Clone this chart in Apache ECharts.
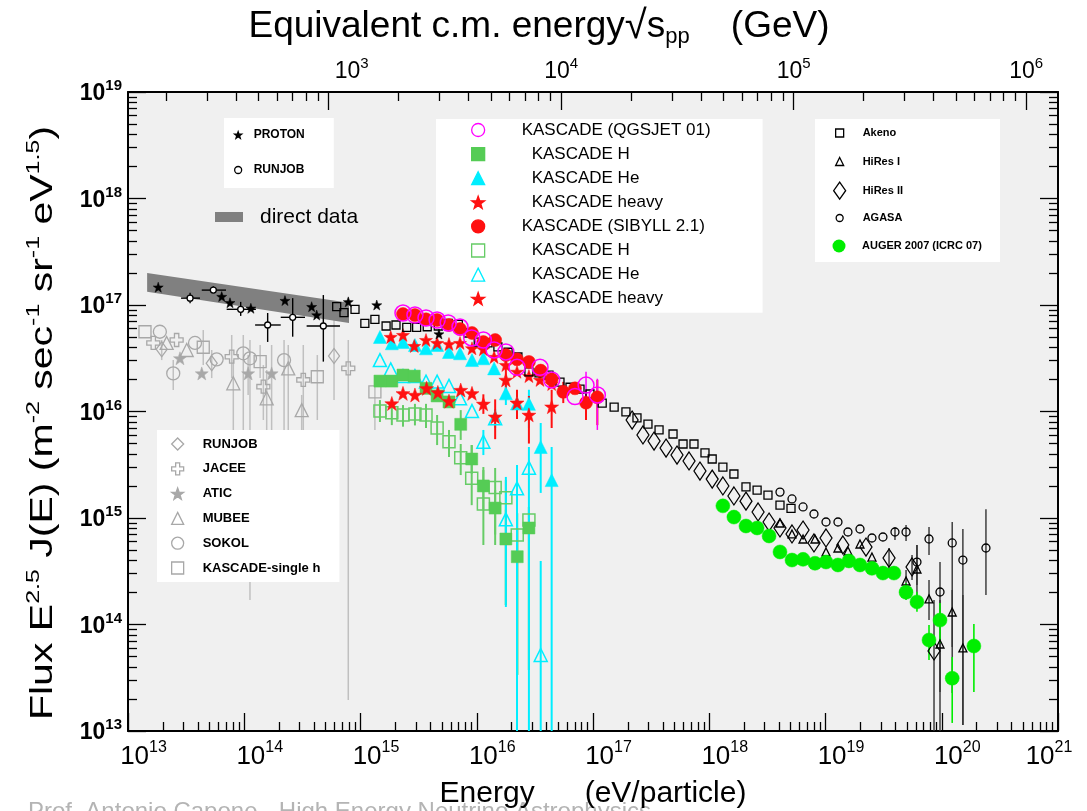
<!DOCTYPE html>
<html>
<head>
<meta charset="utf-8">
<script src="https://cdn.jsdelivr.net/npm/echarts@6/dist/echarts.min.js"></script>
<style>
html,body{margin:0;padding:0;background:#fff;}
#chart{width:1087px;height:811px;}
</style>
</head>
<body>
<div id="chart"></div>
<script>
// ---------------- data: energy (eV/particle), flux E^2.5 J(E) ----------------
// Direct measurements band
const bandE = [1.46e13, 7.96e14];
const bandUpper = [2.0e17, 1.05e17];
const bandLower = [1.33e17, 6.78e16];

// Protons (direct)
const protonData = [[1.82e13,1.47e17],[6.40e13,1.20e17],[7.54e13,1.05e17],[1.14e14,9.31e16],[2.24e14,1.10e17],[3.80e14,9.64e16],[4.20e14,8.05e16],[7.85e14,1.07e17],[1.38e15,1.00e17],[4.73e15,5.34e16]];
// RUNJOB protons with errors
const runjobData = [[3.42e13,1.16e17],[5.42e13,1.38e17],[9.32e13,9.11e16],[1.59e14,6.49e16],[2.61e14,7.66e16],[4.79e14,6.35e16]];
const runjobFluxErr = [[3.42e13,1.04e17,1.30e17],[5.42e13,1.30e17,1.50e17],[9.32e13,7.9e16,1.07e17],[1.59e14,4.5e16,8.41e16],[2.61e14,5.04e16,1.16e17],[4.79e14,2.94e16,1.24e17]];
const runjobEnergyErr = [[1.16e17,2.86e13,4.16e13],[1.38e17,4.31e13,6.97e13],[9.11e16,7.06e13,1.26e14],[6.49e16,1.24e14,2.06e14],[7.66e16,2.06e14,3.33e14],[6.35e16,3.44e14,6.66e14]];

// All-particle direct measurements (grey)
const runjobAll = [[1.95e13,3.84e16],[5.25e13,2.84e16],[5.92e14,3.32e16]];
const jaceeAll = [[1.65e13,4.40e16],[2.62e13,4.69e16],[7.80e13,3.27e16],[1.46e14,1.71e16],[3.22e14,1.98e16],[7.85e14,2.54e16]];
const aticAll = [[2.80e13,3.16e16],[4.31e13,2.28e16],[1.08e14,2.28e16],[1.72e14,2.28e16]];
const mubeeAll = [[2.15e13,4.40e16],[3.20e13,3.78e16],[8.05e13,1.84e16],[1.56e14,1.33e16],[2.39e14,2.54e16],[3.12e14,1.03e16]];
const sokolAll = [[1.88e13,5.61e16],[2.45e13,2.28e16],[3.77e13,4.40e16],[5.79e13,3.09e16],[9.81e13,3.52e16],[1.12e14,3.16e16],[2.20e14,3.04e16]];
const kascadeSingleH = [[1.40e13,5.61e16],[4.44e13,4.01e16],[1.37e14,2.94e16],[4.25e14,2.12e16],[1.33e15,1.53e16]];
const directErr = [
  [1.95e13,3.04e16,4.69e16],[5.25e13,2.06e16,3.78e16],[5.92e14,1.28e16,7.23e16],
  [7.80e13,2.06e16,5.23e16],[1.46e14,8.32e15,2.73e16],[3.22e14,4.49e14,4.21e16],[7.85e14,1.95e13,4.69e16],
  [1.08e14,1.43e16,3.39e16],[1.72e14,2.82e15,4.21e16],
  [8.05e13,2.82e15,3.04e16],[1.56e14,1.83e15,2.45e16],[2.39e14,4.03e14,4.21e16],[3.12e14,4.49e14,1.43e16],
  [2.45e13,1.59e16,3.04e16],[9.81e13,1.83e15,5.23e16],[1.12e14,1.70e14,4.69e16],[2.20e14,8.0e14,4.69e16],
  [4.44e13,2.73e16,5.82e16],[1.37e14,2.06e16,4.21e16],[4.25e14,8.32e15,3.39e16],[1.33e15,6.71e15,2.20e16]
];

// Air-shower arrays
const akeno = [[6.24e14,9.64e16],[7.21e14,8.47e16],[8.97e14,9.11e16],[1.09e15,6.73e16],[1.33e15,7.34e16],[1.66e15,6.35e16],[2.02e15,6.49e16],[2.50e15,6.17e16],[3.04e15,6.17e16],[3.75e15,6.25e16],[4.67e15,6.35e16],[5.69e15,6.73e16],[6.94e15,6.59e16],[8.41e15,5.46e16],[1.03e16,4.49e16],[1.25e16,4.40e16],[1.52e16,4.04e16],[1.86e16,3.60e16],[2.26e16,3.25e16],[2.81e16,2.36e16],[3.43e16,2.31e16],[4.18e16,2.20e16],[5.20e16,1.89e16],[6.34e16,1.69e16],[7.73e16,1.62e16],[9.42e16,1.46e16],[1.20e17,1.20e16],[1.52e17,1.10e16],[1.92e17,9.9e15],[2.39e17,8.7e15],[2.97e17,7.6e15],[3.70e17,6.71e15],[4.88e17,6.15e15],[5.95e17,4.95e15],[7.39e17,4.95e15],[9.19e17,4.08e15],[1.06e18,3.58e15],[1.31e18,3.01e15],[1.63e18,2.59e15],[2.07e18,1.96e15],[2.58e18,1.83e15],[3.20e18,1.64e15],[4.06e18,1.32e15],[5.05e18,1.23e15]];
const hires2 = [[2.17e17,8.32e15],[2.69e17,6.02e15],[3.35e17,5.28e15],[4.25e17,4.54e15],[5.28e17,3.90e15],[6.70e17,3.43e15],[8.32e17,2.76e15],[1.06e18,2.32e15],[1.31e18,2.00e15],[1.63e18,1.61e15],[2.07e18,1.44e15],[2.63e18,1.14e15],[3.27e18,9.17e14],[4.06e18,8.06e14],[5.15e18,7.08e14],[6.41e18,7.71e14],[7.96e18,5.83e14],[1.01e19,6.49e14],[1.41e19,5.58e14],[2.23e19,5.34e14],[3.52e19,4.21e14],[5.55e19,3.47e14],[8.58e19,5.64e13]];
const hires2Err = [[3.52e19,3.25e14,5.23e14],[5.55e19,2.62e14,4.49e14],[8.58e19,1e13,1.70e14]];
const hires1 = [[4.06e18,8.98e14],[5.15e18,7.08e14],[6.41e18,6.35e14],[8.12e18,6.35e14],[1.01e19,4.80e14],[1.28e19,5.23e14],[1.56e19,4.90e14],[1.98e19,5.70e14],[2.51e19,4.30e14],[4.93e19,2.56e14],[6.12e19,3.32e14],[7.77e19,1.74e14],[9.66e19,6.56e13],[1.23e20,1.31e14],[1.52e20,6.02e13]];
const hires1Err = [[4.93e19,1.89e14,3.25e14],[6.12e19,1.70e14,5.58e14],[7.77e19,1.10e14,2.62e14],[9.66e19,1e13,1.70e14],[1.23e20,6.15e13,2.11e14],[1.52e20,1.14e13,1.89e14]];
const agasa = [[4.06e18,1.75e15],[5.15e18,1.51e15],[6.41e18,1.27e15],[7.96e18,1.09e15],[1.01e19,9.17e14],[1.28e19,9.17e14],[1.56e19,7.39e14],[1.98e19,7.88e14],[2.51e19,6.49e14],[3.12e19,6.63e14],[3.96e19,7.39e14],[4.93e19,7.39e14],[6.12e19,3.86e14],[7.77e19,6.35e14],[9.66e19,2.02e14],[1.23e20,5.83e14],[1.52e20,4.03e14],[2.40e20,5.23e14]];
const agasaErr = [[3.96e19,6.21e14,8.23e14],[4.93e19,6.08e14,8.60e14],[6.12e19,2.35e14,5.58e14],[7.77e19,4.49e14,8.23e14],[9.66e19,2.32e13,3.86e14],[1.23e20,2.27e13,9.17e14],[1.52e20,1.14e13,7.88e14],[2.40e20,1.89e14,1.21e15]];
const auger = [[1.31e18,1.30e15],[1.63e18,1.02e15],[2.07e18,8.41e14],[2.58e18,8.06e14],[3.27e18,6.78e14],[4.06e18,4.80e14],[5.15e18,4.03e14],[6.41e18,4.09e14],[8.12e18,3.76e14],[1.01e19,3.86e14],[1.28e19,3.62e14],[1.59e19,3.95e14],[1.98e19,3.62e14],[2.51e19,3.37e14],[3.12e19,3.04e14],[3.88e19,3.04e14],[4.93e19,2.01e14],[6.12e19,1.63e14],[7.77e19,7.15e13],[9.66e19,1.10e14],[1.23e20,3.13e13],[1.89e20,6.28e13]];
const augerErr = [[4.93e19,1.70e14,2.45e14],[6.12e19,1.32e14,2.03e14],[7.77e19,4.64e13,9.89e13],[9.66e19,6.70e13,1.59e14],[1.23e20,1.19e13,4.95e13],[1.89e20,2.32e13,1.01e14]];

// KASCADE unfolding, QGSJET 01
const qgsAll = [[2.32e15,8.41e16],[2.94e15,8.05e16],[3.66e15,7.55e16],[4.56e15,7.23e16],[5.68e15,6.78e16],[7.18e15,6.21e16],[9.05e15,4.90e16],[1.14e16,4.69e16],[1.41e16,3.78e16],[1.78e16,3.62e16],[2.22e16,2.60e16],[3.50e16,2.60e16],[4.41e16,1.98e16],[7.00e16,1.38e16],[8.71e16,1.77e16],[1.09e17,1.43e16]];
const qgsAllErr = [[8.71e16,1.28e16,2.36e16],[1.09e17,6.71e15,2.03e16]];
const qgsH = [[1.47e15,1.93e16],[1.86e15,1.93e16],[2.32e15,2.20e16],[2.90e15,2.15e16],[3.66e15,1.65e16],[4.56e15,1.40e16],[5.77e15,1.23e16],[7.28e15,7.58e15],[9.05e15,3.58e15],[1.14e16,2.00e15],[1.44e16,1.24e15],[1.78e16,6.35e14],[2.23e16,4.33e14],[2.81e16,8.06e14]];
const qgsHErr = [[7.28e15,5.41e15,1.03e16],[9.05e15,2.6e15,4.84e15],[1.14e16,1.2e15,3.01e15],[1.44e16,7.0e14,1.83e15],[1.78e16,1.52e14,1.2e15],[2.23e16,3.36e13,8.0e14],[2.81e16,3.74e13,1.27e15]];
const qgsHe = [[1.47e15,5.01e16],[1.86e15,4.37e16],[2.32e15,4.49e16],[2.94e15,4.21e16],[3.66e15,3.92e16],[4.56e15,4.21e16],[5.77e15,3.62e16],[7.18e15,3.52e16],[9.10e15,3.04e16],[1.14e16,3.16e16],[1.41e16,2.54e16],[1.78e16,1.48e16],[2.22e16,1.19e16],[2.81e16,1.18e16],[3.55e16,4.64e15],[4.41e16,2.27e15]];
const qgsHeErr = [[1.78e16,1.15e16,1.98e16],[2.81e16,7.0e15,1.6e16],[3.55e16,1.72e15,7.80e15],[4.41e16,1e13,4.64e15]];
const qgsHeavy = [[1.82e15,5.01e16],[2.32e15,5.23e16],[2.90e15,4.12e16],[3.66e15,4.69e16],[4.56e15,4.40e16],[5.77e15,4.30e16],[7.18e15,4.40e16],[9.10e15,3.92e16],[1.14e16,3.84e16],[1.41e16,3.25e16],[1.78e16,2.73e16],[2.22e16,2.36e16],[2.81e16,2.15e16],[3.50e16,1.98e16],[4.41e16,1.81e16]];

// KASCADE unfolding, SIBYLL 2.1
const sibAll = [[2.32e15,8.23e16],[2.94e15,8.05e16],[3.66e15,7.34e16],[4.56e15,7.23e16],[5.77e15,6.49e16],[7.18e15,5.95e16],[9.10e15,5.46e16],[1.14e16,4.49e16],[1.44e16,4.69e16],[1.78e16,3.39e16],[2.22e16,3.09e16],[2.81e16,2.92e16],[3.55e16,2.42e16],[4.41e16,2.01e16],[5.55e16,1.53e16],[7.00e16,1.65e16],[8.71e16,1.21e16],[1.09e17,1.36e16]];
const sibAllErr = [[5.55e16,1.2e16,1.9e16],[8.71e16,8.32e15,1.59e16],[1.09e17,7.45e15,1.98e16]];
const sibH = [[1.47e15,1.01e16],[1.86e15,9.74e15],[2.32e15,9.27e15],[2.94e15,9.47e15],[3.66e15,9.27e15],[4.56e15,7.0e15],[5.77e15,5.20e15],[7.28e15,3.68e15],[9.05e15,2.36e15],[1.14e16,1.35e15],[1.44e16,1.93e15],[1.78e16,1.55e15],[2.23e16,6.92e14],[2.81e16,9.58e14]];
const sibHErr = [[1.47e15,7.97e15,1.28e16],[1.86e15,7.45e15,1.21e16],[2.32e15,7.2e15,1.15e16],[2.94e15,7.4e15,1.18e16],[3.66e15,7.0e15,1.18e16],[4.56e15,4.84e15,9.27e15],[5.77e15,3.74e15,6.71e15],[7.28e15,2.53e15,4.95e15],[9.05e15,1.32e15,4.84e15],[1.14e16,5.58e14,2.82e15],[1.44e16,5.58e14,2.95e15],[1.78e16,1.52e14,2.27e15],[2.23e16,3.36e13,1.11e15],[2.81e16,3.74e13,1.27e15]];
const sibHe = [[1.47e15,3.04e16],[1.82e15,2.49e16],[2.32e15,2.15e16],[2.94e15,2.15e16],[3.66e15,1.91e16],[4.56e15,1.91e16],[5.77e15,1.74e16],[7.18e15,1.33e16],[9.10e15,1.01e16],[1.14e16,5.20e15],[1.44e16,8.64e15],[1.78e16,9.72e14],[2.22e16,1.90e15],[2.81e16,2.97e15],[3.55e16,5.17e13]];
const sibHeErr = [[1.14e16,3.90e15,6.71e15],[1.44e16,7.0e15,1.05e16],[1.78e16,1.46e14,2.43e15],[2.22e16,1e13,3.15e15],[2.81e16,1e13,4.64e15],[3.55e16,1e13,3.95e14]];
const sibHeavy = [[1.86e15,1.19e16],[2.32e15,1.48e16],[2.94e15,1.43e16],[3.70e15,1.65e16],[4.63e15,1.51e16],[5.77e15,1.25e16],[7.28e15,1.59e16],[9.10e15,1.48e16],[1.14e16,1.18e16],[1.44e16,8.94e15],[1.78e16,1.98e16],[2.22e16,1.21e16],[2.81e16,9.3e15],[4.41e16,1.11e16]];
const sibHeavyErr = [[1.14e16,9.5e15,1.45e16],[1.44e16,5.5e15,1.3e16],[1.78e16,1.4e16,2.6e16],[2.22e16,8.5e15,1.6e16],[2.81e16,5.0e15,1.4e16],[4.41e16,7.0e15,1.6e16]];

// ---------------- axes: decades ----------------
const energyDecades = [13, 21];
const fluxDecades = [13, 19];
const sqrtsDecades = [3, 4, 5, 6];        // sqrt(s_pp) labels, powers of ten in GeV
const PROTON_MASS_GEV = 0.938;

// ---------------- styling ----------------
const SANS = '"Liberation Sans",Arial,Helvetica,sans-serif';
const STAR = 'path://M0,-10L2.35,-3.24L9.51,-3.09L3.8,1.24L5.88,8.09L0,4L-5.88,8.09L-3.8,1.24L-9.51,-3.09L-2.35,-3.24Z';
const PLUS = 'path://M-1,-3L1,-3L1,-1L3,-1L3,1L1,1L1,3L-1,3L-1,1L-3,1L-3,-1L-1,-1Z';
const GREY = '#a8a8a8', GREY_BAR = '#c0c0c0';
const CYAN = '#00eeff', GREEN = '#55cc55', RED = '#ff1010', MAGENTA = '#ff00ff', AUGER_GREEN = '#00ee00';
const CLEAR = 'rgba(0,0,0,0)';

// log10 positions of the sub-decade ticks
function minorLogTicks(lo, hi) {
  const out = [];
  for (let d = lo; d < hi; d++) for (let m = 2; m <= 9; m++) out.push(d + Math.log10(m));
  return out;
}
// lab energy (log10 eV) that corresponds to sqrt(s_pp) = 10^k GeV
const sqrtsToLogE = k => 2 * k + 9 - Math.log10(2 * PROTON_MASS_GEV);
const logEToSqrtsExp = v => Math.round((v - 9 + Math.log10(2 * PROTON_MASS_GEV)) / 2);
const sqrtsMajorTicks = sqrtsDecades.map(sqrtsToLogE);
const sqrtsMinorTicks = (() => {
  const out = [];
  for (let k = 2; k <= 6; k++) for (let m = 2; m <= 9; m++) {
    const v = sqrtsToLogE(k + Math.log10(m));
    if (v > energyDecades[0] && v < energyDecades[1]) out.push(v);
  }
  return out;
})();

function scatter(name, data, symbol, size, fill, stroke, bw, z) {
  return {
    type: 'scatter', name, data, symbol, symbolSize: size, z: z || 5,
    xAxisIndex: 0, yAxisIndex: 0,
    itemStyle: { color: fill, borderColor: stroke, borderWidth: bw, opacity: 1 },
    emphasis: { disabled: true }
  };
}
function vBars(rows, color, width, z) {
  return {
    type: 'custom', xAxisIndex: 0, yAxisIndex: 0, z: z || 4, silent: true, clip: true,
    data: rows, encode: { x: 0, y: [1, 2] },
    renderItem(params, api) {
      const a = api.coord([api.value(0), api.value(1)]);
      const b = api.coord([api.value(0), api.value(2)]);
      return { type: 'line', shape: { x1: a[0], y1: a[1], x2: b[0], y2: b[1] }, style: { stroke: color, lineWidth: width } };
    }
  };
}
function hBars(rows, color, width, z) {
  return {
    type: 'custom', xAxisIndex: 0, yAxisIndex: 0, z: z || 4, silent: true, clip: true,
    data: rows, encode: { x: [1, 2], y: 0 },
    renderItem(params, api) {
      const a = api.coord([api.value(1), api.value(0)]);
      const b = api.coord([api.value(2), api.value(0)]);
      return { type: 'line', shape: { x1: a[0], y1: a[1], x2: b[0], y2: b[1] }, style: { stroke: color, lineWidth: width } };
    }
  };
}
const bandSeries = {
  type: 'custom', name: 'direct data', xAxisIndex: 0, yAxisIndex: 0, z: 3, silent: true,
  itemStyle: { color: '#808080' },
  data: bandE.map((e, i) => [e, bandLower[i], bandUpper[i]]),
  encode: { x: 0, y: [1, 2] },
  renderItem(params, api) {
    if (params.dataIndex !== 0) return null;
    const pts = [];
    bandE.forEach((e, i) => pts.push(api.coord([e, bandUpper[i]])));
    for (let i = bandE.length - 1; i >= 0; i--) pts.push(api.coord([bandE[i], bandLower[i]]));
    return { type: 'polygon', shape: { points: pts }, style: { fill: '#808080' } };
  }
};

const series = [
  // grey direct all-particle data
  vBars(directErr, GREY_BAR, 1.5, 1),
  scatter('RUNJOB (all)', runjobAll, 'diamond', [11, 15], CLEAR, GREY, 1.3, 2),
  scatter('JACEE', jaceeAll, PLUS, 13, CLEAR, GREY, 1.3, 2),
  scatter('ATIC', aticAll, STAR, 13, GREY, GREY, 0.5, 2),
  scatter('MUBEE', mubeeAll, 'triangle', 13, CLEAR, GREY, 1.3, 2),
  scatter('SOKOL', sokolAll, 'circle', 13, CLEAR, GREY, 1.3, 2),
  scatter('KASCADE-single h', kascadeSingleH, 'rect', 12, CLEAR, GREY, 1.3, 2),
  bandSeries,
  // protons
  vBars(runjobFluxErr, '#000', 1.4, 5),
  hBars(runjobEnergyErr, '#000', 1.4, 5),
  scatter('PROTON', protonData, STAR, 10, '#000', '#000', 0.5, 6),
  scatter('RUNJOB', runjobData, 'circle', 6, '#fff', '#000', 1.3, 6),
  // KASCADE
  vBars(sibHErr, '#66cc66', 2, 4),
  vBars(qgsHErr, '#66cc66', 2, 4),
  vBars(sibHeErr, CYAN, 2, 4),
  vBars(qgsHeErr, CYAN, 2, 4),
  vBars(sibHeavyErr, RED, 2, 4),
  vBars(sibAllErr, RED, 2, 4),
  vBars(qgsAllErr, MAGENTA, 1.5, 4),
  scatter('KASCADE H (SIBYLL 2.1)', sibH, 'rect', 12, CLEAR, '#66cc66', 1.5, 5),
  scatter('KASCADE He (SIBYLL 2.1)', sibHe, 'triangle', 13, CLEAR, CYAN, 1.5, 5),
  scatter('KASCADE H (QGSJET 01)', qgsH, 'rect', 12, GREEN, GREEN, 0.5, 5),
  scatter('KASCADE He (QGSJET 01)', qgsHe, 'triangle', 13, CYAN, CYAN, 0.5, 5),
  scatter('KASCADE heavy (SIBYLL 2.1)', sibHeavy, STAR, 14, RED, RED, 0.5, 5),
  scatter('KASCADE heavy (QGSJET 01)', qgsHeavy, STAR, 13, RED, RED, 0.5, 5),
  scatter('Akeno', akeno, 'rect', 8, CLEAR, '#000', 1.3, 5),
  scatter('KASCADE (SIBYLL 2.1)', sibAll, 'circle', 13, RED, RED, 0.5, 6),
  scatter('KASCADE (QGSJET 01)', qgsAll, 'circle', 16, CLEAR, MAGENTA, 1.5, 7),
  // ultra-high energy
  vBars(hires2Err, '#333', 1.4, 4),
  vBars(hires1Err, '#333', 1.4, 4),
  vBars(agasaErr, '#333', 1.4, 4),
  vBars(augerErr, AUGER_GREEN, 1.6, 4),
  scatter('HiRes II', hires2, 'diamond', [12, 18], CLEAR, '#000', 1.3, 5),
  scatter('HiRes I', hires1, 'triangle', 8, CLEAR, '#000', 1.3, 5),
  scatter('AGASA', agasa, 'circle', 8, CLEAR, '#000', 1.3, 5),
  scatter('AUGER 2007 (ICRC 07)', auger, 'circle', 14, AUGER_GREEN, AUGER_GREEN, 0.5, 6)
];

// ---------------- legends ----------------
const legendLabel = {
  'RUNJOB (all)': 'RUNJOB',
  'KASCADE H (QGSJET 01)': 'KASCADE H', 'KASCADE He (QGSJET 01)': 'KASCADE He', 'KASCADE heavy (QGSJET 01)': 'KASCADE heavy',
  'KASCADE H (SIBYLL 2.1)': 'KASCADE H', 'KASCADE He (SIBYLL 2.1)': 'KASCADE He', 'KASCADE heavy (SIBYLL 2.1)': 'KASCADE heavy'
};
const kascadeHeaders = ['KASCADE (QGSJET 01)', 'KASCADE (SIBYLL 2.1)'];

function legendBox(opts) {
  const font = { fontSize: opts.fontSize, fontFamily: SANS, fontWeight: opts.bold ? 'bold' : 'normal', color: '#000', lineHeight: opts.lineHeight };
  return {
    show: true, orient: 'vertical', selectedMode: false,
    left: opts.left, top: opts.top, padding: opts.padding || 0, itemGap: opts.gap || 0,
    itemWidth: opts.w, itemHeight: opts.h,
    backgroundColor: opts.bg || 'transparent', borderWidth: 0,
    data: opts.data,
    itemStyle: { borderWidth: opts.iconBorder == null ? 1.3 : opts.iconBorder },
    formatter: name => {
      const style = opts.styleOf ? opts.styleOf(name) : 'a';
      return '{' + style + '|' + (legendLabel[name] || name) + '}';
    },
    textStyle: Object.assign({}, font, {
      rich: {
        a: Object.assign({}, font, { padding: [0, 0, 0, opts.pad || 0] }),
        h: Object.assign({}, font, { padding: [0, 0, 0, opts.padH || 0] }),
        k: Object.assign({}, font, { padding: [0, 0, 0, opts.padK || 0] })
      }
    })
  };
}

const legends = [
  legendBox({ left: 224, top: 118, padding: [10, 29, 11, 10], gap: 21, w: 7, h: 7, bold: true, fontSize: 12, lineHeight: 14, pad: 7,
    bg: '#fff', data: ['PROTON', 'RUNJOB'] }),
  legendBox({ left: 215, top: 205, w: 28, h: 10, fontSize: 21, lineHeight: 24, pad: 12, iconBorder: 0,
    data: [{ name: 'direct data', icon: 'rect', itemStyle: { color: '#808080' } }] }),
  legendBox({ left: 436, top: 119, padding: [1, 52, 4, 35], gap: 4.1, w: 13, h: 13, fontSize: 17, lineHeight: 20,
    padH: 32, padK: 42, bg: '#fff',
    styleOf: n => kascadeHeaders.indexOf(n) >= 0 ? 'h' : 'k',
    data: ['KASCADE (QGSJET 01)', 'KASCADE H (QGSJET 01)', 'KASCADE He (QGSJET 01)', 'KASCADE heavy (QGSJET 01)',
           'KASCADE (SIBYLL 2.1)', 'KASCADE H (SIBYLL 2.1)', 'KASCADE He (SIBYLL 2.1)', 'KASCADE heavy (SIBYLL 2.1)'] }),
  legendBox({ left: 835, top: 126, gap: 14.5, w: 8, h: 8, bold: true, fontSize: 11, lineHeight: 14, pad: 14,
    data: ['Akeno', 'HiRes I'] }),
  legendBox({ left: 833, top: 181.5, w: 12, h: 17, bold: true, fontSize: 11, lineHeight: 14, pad: 12,
    data: ['HiRes II'] }),
  legendBox({ left: 835.5, top: 211, w: 7, h: 7, bold: true, fontSize: 11, lineHeight: 14, pad: 14.5,
    data: ['AGASA'] }),
  legendBox({ left: 832.5, top: 239, w: 13, h: 13, bold: true, fontSize: 11, lineHeight: 14, pad: 11.5, iconBorder: 0,
    data: ['AUGER 2007 (ICRC 07)'] }),
  legendBox({ left: 157, top: 430, padding: [7, 19, 7, 14], gap: 10.8, w: 12, h: 12, bold: true, fontSize: 13, lineHeight: 14, pad: 14,
    bg: '#fff', data: ['RUNJOB (all)', 'JACEE', 'ATIC', 'MUBEE', 'SOKOL', 'KASCADE-single h'] })
];

// ---------------- axes ----------------
const axisBlack = { color: '#000', width: 2 };
const tickBlack = { color: '#000', width: 1.3 };
const powLabelRich = (base, sup, bold) => ({
  b: { fontSize: base, fontFamily: SANS, fontWeight: bold ? 'bold' : 'normal', color: '#000', lineHeight: base + 4, verticalAlign: 'bottom' },
  s: { fontSize: sup, fontFamily: SANS, fontWeight: bold ? 'bold' : 'normal', color: '#000', lineHeight: sup, verticalAlign: 'top' }
});

const bottomRich = powLabelRich(26, 16, false);
bottomRich.b.padding = [0, 0, 0, 31];
bottomRich.bl = Object.assign({}, bottomRich.b, { padding: 0 });
bottomRich.sl = Object.assign({}, bottomRich.s, { padding: [0, 18, 0, 0] });
const topRich = powLabelRich(23, 15, false);
topRich.bf = Object.assign({}, topRich.b, { padding: [0, 0, 0, 46] });

const xAxes = [
  // data axis (energy)
  { type: 'log', logBase: 10, min: Math.pow(10, energyDecades[0]), max: Math.pow(10, energyDecades[1]), show: false, position: 'bottom' },
  // bottom decades
  { type: 'value', position: 'bottom', min: energyDecades[0], max: energyDecades[1], interval: 1,
    axisLine: { show: true, onZero: false, lineStyle: axisBlack },
    axisTick: { show: true, inside: true, length: 18, lineStyle: tickBlack },
    splitLine: { show: false },
    axisLabel: { show: true, margin: 9,
      formatter: v => v === energyDecades[1] ? '{bl|10}{sl|' + v + '}' : '{b|10}{s|' + v + '}',
      rich: bottomRich },
    name: 'Energy      (eV/particle)', nameLocation: 'middle', nameGap: 48,
    nameTextStyle: { fontSize: 30, fontFamily: SANS, color: '#000' } },
  // bottom sub-decade ticks
  { type: 'value', position: 'bottom', min: energyDecades[0], max: energyDecades[1],
    axisLine: { show: false, onZero: false }, splitLine: { show: false }, axisLabel: { show: false },
    axisTick: { show: true, inside: true, length: 9, lineStyle: tickBlack, customValues: minorLogTicks(energyDecades[0], energyDecades[1]) } },
  // top: equivalent c.m. energy
  { type: 'value', position: 'top', min: energyDecades[0], max: energyDecades[1],
    axisLine: { show: true, onZero: false, lineStyle: axisBlack },
    axisTick: { show: true, inside: true, length: 18, lineStyle: tickBlack, customValues: sqrtsMajorTicks },
    splitLine: { show: false },
    axisLabel: { show: true, margin: 9, customValues: sqrtsMajorTicks,
      formatter: v => {
        const k = logEToSqrtsExp(v);
        return (k === sqrtsDecades[0] ? '{bf|10}' : '{b|10}') + '{s|' + k + '}';
      },
      rich: topRich },
    name: '{t|Equivalent c.m. energy}{r|√}{t|s}{u|pp}{t|    (GeV)}', nameLocation: 'middle', nameGap: 44,
    nameTextStyle: { padding: [0, 108, 0, 0], rich: {
      t: { fontSize: 37, fontFamily: SANS, color: '#000', lineHeight: 42, verticalAlign: 'middle' },
      r: { fontSize: 40, fontFamily: SANS, color: '#000', lineHeight: 42, verticalAlign: 'middle' },
      u: { fontSize: 22, fontFamily: SANS, color: '#000', lineHeight: 22, verticalAlign: 'bottom' } } } },
  // top sub-decade ticks
  { type: 'value', position: 'top', min: energyDecades[0], max: energyDecades[1],
    axisLine: { show: false, onZero: false }, splitLine: { show: false }, axisLabel: { show: false },
    axisTick: { show: true, inside: true, length: 9, lineStyle: tickBlack, customValues: sqrtsMinorTicks } }
];

const yAxes = [
  { type: 'log', logBase: 10, min: Math.pow(10, fluxDecades[0]), max: Math.pow(10, fluxDecades[1]), show: false, position: 'left' },
  { type: 'value', position: 'left', min: fluxDecades[0], max: fluxDecades[1], interval: 1,
    axisLine: { show: true, onZero: false, lineStyle: axisBlack },
    axisTick: { show: true, inside: true, length: 18, lineStyle: tickBlack },
    splitLine: { show: false },
    axisLabel: { show: true, margin: 6, formatter: v => '{b|10}{s|' + v + '}', rich: powLabelRich(23, 15, true) } },
  { type: 'value', position: 'left', min: fluxDecades[0], max: fluxDecades[1],
    axisLine: { show: false, onZero: false }, splitLine: { show: false }, axisLabel: { show: false },
    axisTick: { show: true, inside: true, length: 9, lineStyle: tickBlack, customValues: minorLogTicks(fluxDecades[0], fluxDecades[1]) } },
  { type: 'value', position: 'right', min: fluxDecades[0], max: fluxDecades[1], interval: 1,
    axisLine: { show: true, onZero: false, lineStyle: axisBlack },
    axisTick: { show: true, inside: true, length: 18, lineStyle: tickBlack },
    splitLine: { show: false }, axisLabel: { show: false } },
  { type: 'value', position: 'right', min: fluxDecades[0], max: fluxDecades[1],
    axisLine: { show: false, onZero: false }, splitLine: { show: false }, axisLabel: { show: false },
    axisTick: { show: true, inside: true, length: 9, lineStyle: tickBlack, customValues: minorLogTicks(fluxDecades[0], fluxDecades[1]) } }
];

// vertical axis title, drawn as rotated rich text with condensed glyph height
const fluxTitle = {
  type: 'text', x: 42, y: 423, rotation: Math.PI / 2, scaleY: 0.76, z: 10,
  style: {
    text: '{n|Flux E}{p|2.5}{n| J(E) (m}{p|-2}{n| sec}{p|-1}{n| sr}{p|-1}{n| eV}{p|1.5}{n|)}',
    align: 'center', verticalAlign: 'middle',
    rich: {
      n: { fontSize: 41, fontFamily: SANS, fill: '#000', lineHeight: 46, verticalAlign: 'bottom' },
      p: { fontSize: 25, fontFamily: SANS, fill: '#000', lineHeight: 25, verticalAlign: 'top' }
    }
  }
};

const chart = echarts.init(document.getElementById('chart'), null, { renderer: 'canvas' });
chart.setOption({
  animation: false,
  backgroundColor: '#ffffff',
  grid: { left: 128, right: 29, top: 92, bottom: 80, show: true, backgroundColor: '#f0f0f0', borderWidth: 0, containLabel: false, outerBoundsMode: 'none' },
  xAxis: xAxes,
  yAxis: yAxes,
  legend: legends,
  graphic: [
    { type: 'rect', left: 815, top: 119, z: 3, shape: { width: 185, height: 143 }, style: { fill: '#ffffff' } },
    { type: 'text', left: 28, top: 800, z: 0, style: { text: 'Prof. Antonio Capone - High Energy Neutrino Astrophysics', fill: '#b4b4b4', font: '24px "Liberation Sans", Arial, sans-serif' } },
    fluxTitle
  ],
  series
});
</script>
</body>
</html>
